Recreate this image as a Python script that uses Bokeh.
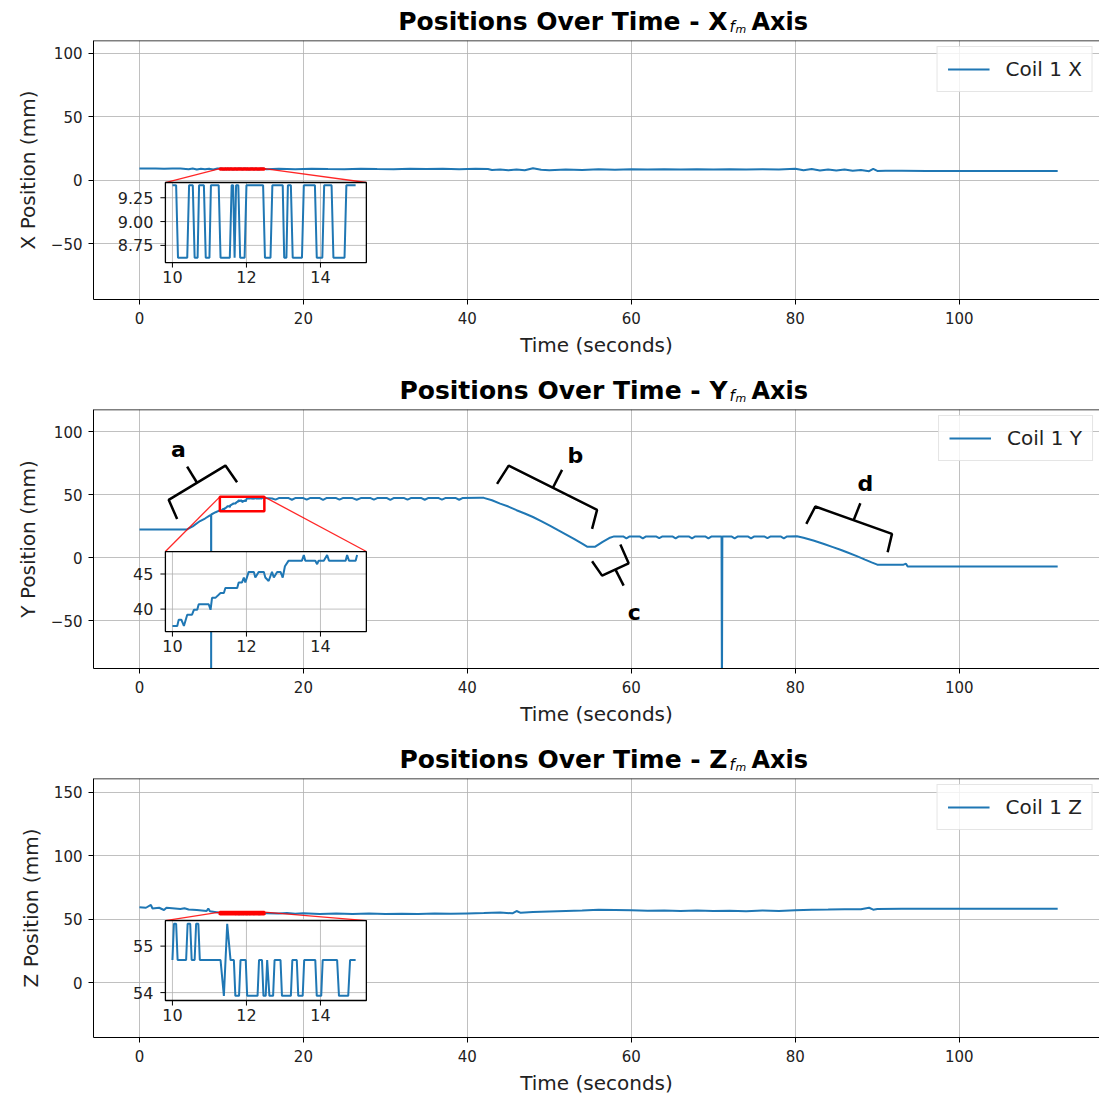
from bokeh.plotting import figure
from bokeh.models import Range1d, FixedTicker, Legend, LegendItem, Span
from bokeh.layouts import column
from bokeh.embed import file_html
from bokeh.resources import INLINE
from bokeh.core.properties import value

FONT = "DejaVu Sans"
BLUE = "#1f77b4"

# ---------------- data (time s, position mm) ----------------
x_before = [(0, 9.4), (1, 9.4), (2, 9.4), (3, 9.3), (4, 9.4), (5, 9.4), (6, 8.8), (6.5, 9.4),
            (7, 8.6), (7.5, 9.2), (8, 8.8), (8.5, 9.3), (9, 8.7), (9.5, 9.4)]
x_zoom = [(10.0, 9.38), (10.1, 9.38), (10.15, 8.62), (10.4, 8.62), (10.45, 9.38), (10.55, 9.38),
          (10.6, 8.62), (10.68, 8.62), (10.72, 9.38), (10.85, 9.38), (10.9, 8.62), (11.0, 8.62),
          (11.04, 9.38), (11.25, 9.38), (11.3, 8.62), (11.55, 8.62), (11.6, 9.38), (11.64, 9.38),
          (11.68, 8.62), (11.72, 9.38), (11.78, 9.38), (11.83, 8.62), (11.95, 8.62), (12.0, 9.38),
          (12.45, 9.38), (12.5, 8.62), (12.65, 8.62), (12.7, 9.38), (12.98, 9.38), (13.02, 8.62),
          (13.08, 8.62), (13.12, 9.38), (13.2, 9.38), (13.25, 8.62), (13.5, 8.62), (13.55, 9.38),
          (13.85, 9.38), (13.9, 8.62), (14.05, 8.62), (14.1, 9.38), (14.3, 9.38), (14.35, 8.62),
          (14.65, 8.62), (14.7, 9.38), (14.95, 9.38)]
x_after = [(15.5, 8.8), (17, 9.3), (19, 8.8), (21, 9.3), (23, 9.0), (25, 8.8), (27, 9.3), (29, 9.0),
           (31, 8.8), (33, 9.3), (35, 9.0), (37, 9.3), (39, 8.8), (41, 9.3), (42.5, 9.0), (43, 8.2),
           (44, 8.6), (45, 8.0), (46, 8.6), (47, 8.1), (48, 9.6), (49, 8.4), (50, 8.1), (52, 8.6),
           (54, 8.3), (56, 8.9), (58, 8.5), (60, 8.9), (62, 8.6), (64, 8.9), (66, 8.6), (68, 8.9),
           (70, 8.6), (72, 8.9), (74, 8.6), (76, 8.9), (78, 8.6), (80, 9.3), (81, 8.1), (82, 9.0),
           (83, 7.9), (84, 8.7), (85, 7.8), (86, 8.6), (87, 7.6), (88, 8.3), (89, 7.3), (89.5, 9.1),
           (90, 7.5), (91, 7.6), (93, 7.6), (96, 7.5), (100, 7.5), (104, 7.5), (108, 7.5), (112, 7.5)]

y_before = [(0, 22.3), (5.8, 22.3), (6.5, 24.8), (7.4, 29.0), (8.0, 31.0), (8.6, 33.5), (8.74, 33.8),
            (8.75, -120), (8.76, 34.2), (9.3, 36.0), (9.8, 37.4)]
y_zoom = [(10.0, 37.6), (10.13, 37.6), (10.17, 38.5), (10.24, 38.5), (10.31, 37.6), (10.40, 39.2),
          (10.53, 39.2), (10.58, 39.9), (10.67, 39.9), (10.71, 40.7), (10.98, 40.7), (11.03, 39.9),
          (11.07, 41.6), (11.16, 41.6), (11.30, 42.3), (11.39, 42.3), (11.43, 43.0), (11.75, 43.0),
          (11.79, 43.8), (11.88, 43.8), (11.93, 44.5), (11.97, 43.8), (12.06, 45.3), (12.20, 45.3),
          (12.24, 44.5), (12.33, 45.3), (12.47, 45.3), (12.51, 44.5), (12.60, 44.0), (12.69, 45.3),
          (12.74, 44.5), (12.83, 45.3), (12.92, 45.3), (12.98, 44.5), (13.04, 46.1), (13.14, 46.9),
          (13.50, 46.9), (13.55, 47.7), (13.59, 46.9), (13.86, 46.9), (13.91, 46.4), (13.95, 46.9),
          (14.09, 46.9), (14.18, 47.7), (14.23, 46.9), (14.68, 46.9), (14.72, 47.7), (14.77, 46.9),
          (14.95, 46.9), (14.99, 47.7)]
y_after = [(15.4, 47.2), (16.2, 46.9), (16.6, 46.0), (17.0, 47.2), (18.2, 47.2), (18.6, 45.9),
           (19.0, 47.2), (20.0, 47.2), (20.4, 46.0), (20.8, 47.2), (22.0, 47.2), (22.4, 45.8),
           (22.8, 47.2), (24.0, 47.2), (24.4, 46.0), (24.8, 47.2), (26.0, 47.2), (26.5, 45.9),
           (27.0, 47.2), (28.2, 47.2), (28.6, 46.0), (29.0, 47.2), (30.2, 47.2), (30.6, 45.8),
           (31.0, 47.2), (32.3, 47.2), (32.7, 46.0), (33.1, 47.2), (34.4, 47.2), (34.8, 45.9),
           (35.2, 47.2), (36.5, 47.2), (36.9, 46.0), (37.3, 47.2), (38.6, 47.2), (39.0, 45.9),
           (39.4, 47.2), (41.5, 47.4), (42.0, 47.4), (43.0, 45.5), (44.0, 42.8), (45.0, 40.5),
           (46.0, 37.6), (47.0, 35.0), (48.0, 32.2), (49.0, 29.0), (50.0, 25.6), (51.0, 22.0),
           (52.0, 18.5), (53.0, 14.8), (54.0, 11.0), (54.6, 8.7), (55.6, 8.7), (56.5, 12.5),
           (57.3, 15.5), (57.9, 16.8), (59.0, 16.8), (59.4, 15.3), (59.8, 16.8), (61.0, 16.8),
           (61.4, 15.2), (61.8, 16.8), (63.0, 16.8), (63.4, 15.4), (63.8, 16.8), (65.0, 16.8),
           (65.4, 15.2), (65.8, 16.8), (67.0, 16.8), (67.4, 15.3), (67.8, 16.8), (69.0, 16.8),
           (69.4, 15.2), (69.8, 16.8), (71.0, 16.8), (71.05, -120), (71.1, 16.8), (72.2, 16.8),
           (72.6, 15.3), (73.0, 16.8), (74.2, 16.8), (74.6, 15.2), (75.0, 16.8), (76.2, 16.8),
           (76.6, 15.4), (77.0, 16.8), (78.2, 16.8), (78.6, 15.3), (79.0, 16.8), (80.2, 17.0),
           (81.0, 15.8), (82.2, 13.5), (83.5, 10.8), (84.5, 8.5), (85.5, 6.2), (86.3, 4.2),
           (87.5, 1.2), (88.5, -1.6), (89.3, -3.8), (90.0, -5.6), (93.2, -5.6), (93.5, -4.8),
           (93.7, -7.1), (112.0, -7.1)]

z_before = [(0, 59.4), (0.8, 59.0), (1.4, 61.2), (1.6, 58.4), (2.4, 59.0), (3.0, 57.2), (3.3, 59.0),
            (4.0, 58.6), (5.0, 58.0), (5.5, 58.6), (6.0, 57.6), (7.0, 57.2), (7.6, 56.8), (8.2, 56.4),
            (8.4, 58.4), (8.6, 56.2), (9.2, 55.6), (9.8, 55.0)]
z_zoom = [(10.0, 54.7), (10.04, 55.48), (10.1, 55.48), (10.14, 54.7), (10.37, 54.7), (10.41, 55.48),
          (10.48, 55.48), (10.52, 54.7), (10.6, 54.7), (10.64, 55.48), (10.7, 55.48), (10.74, 54.7),
          (11.3, 54.7), (11.39, 53.93), (11.48, 55.48), (11.57, 54.7), (11.66, 54.7), (11.7, 53.93),
          (11.8, 53.93), (11.84, 54.7), (11.98, 54.7), (12.02, 53.93), (12.3, 53.93), (12.34, 54.7),
          (12.42, 54.7), (12.46, 53.93), (12.52, 53.93), (12.56, 54.7), (12.62, 53.93), (12.72, 53.93),
          (12.76, 54.7), (12.92, 54.7), (12.96, 53.93), (13.2, 53.93), (13.24, 54.7), (13.36, 54.7),
          (13.4, 53.93), (13.52, 53.93), (13.56, 54.7), (13.86, 54.7), (13.9, 53.93), (14.02, 53.93),
          (14.06, 54.7), (14.45, 54.7), (14.5, 53.93), (14.75, 53.93), (14.8, 54.7), (14.95, 54.7)]
z_after = [(15.5, 54.7), (17, 54.4), (18, 54.8), (19, 54.2), (20, 54.6), (22, 54.0), (24, 54.5),
           (26, 54.1), (28, 54.4), (30, 54.0), (32, 54.3), (34, 54.0), (36, 54.4), (38, 54.2),
           (40, 54.5), (42, 54.8), (44, 55.2), (45.5, 54.6), (46, 56.4), (46.5, 55.0), (48, 55.6),
           (50, 56.0), (52, 56.4), (54, 56.8), (56, 57.4), (58, 57.2), (60, 57.0), (62, 56.6),
           (64, 56.8), (66, 56.5), (68, 56.8), (70, 56.4), (72, 56.7), (74, 56.3), (76, 56.8),
           (78, 56.4), (80, 57.0), (82, 57.4), (84, 57.6), (86, 57.9), (88, 57.8), (89, 59.0),
           (89.5, 57.5), (90, 58.0), (93, 58.3), (100, 58.3), (112, 58.3)]

x_ticks = [0, 20, 40, 60, 80, 100]
inset_x_ticks = [10, 12, 14]

# bracket annotations on the Y panel (time, mm)
brackets = [
    ("a", [(4.60, 30.7), (3.57, 45.8), (10.49, 73.0), (11.91, 59.8)], [(7.03, 59.4), (5.82, 72.2)], (4.76, 85.7)),
    ("b", [(43.62, 58.5), (45.04, 73.0), (55.82, 37.9), (55.21, 22.8)], [(50.43, 55.4), (51.55, 69.6)], (53.17, 81.0)),
    ("c", [(55.21, -2.9), (56.43, -14.3), (59.67, -4.5), (58.66, 10.3)], [(58.05, -9.4), (59.06, -22.2)], (60.37, -43.4)),
    ("d", [(81.34, 26.7), (82.44, 40.5), (91.79, 18.8), (91.26, 4.2)], [(87.11, 29.6), (87.93, 43.1)], (88.54, 58.5)),
]

panels = [
    dict(axis="X", before=x_before, zoom=x_zoom, after=x_after, yr=(-93.7, 110.2),
         yticks=[-50, 0, 50, 100], src_y=(8.57, 9.41), tgt_y=(-64.6, -1.6),
         in_yticks=[8.75, 9.0, 9.25], in_ylabels=["8.75", "9.00", "9.25"]),
    dict(axis="Y", before=y_before, zoom=y_zoom, after=y_after, yr=(-88.0, 117.5),
         yticks=[-50, 0, 50, 100], src_y=(36.8, 48.2), tgt_y=(-58.7, 4.8),
         in_yticks=[40, 45], in_ylabels=["40", "45"]),
    dict(axis="Z", before=z_before, zoom=z_zoom, after=z_after, yr=(-43.4, 161.0),
         yticks=[0, 50, 100, 150], src_y=(53.83, 55.55), tgt_y=(-14.2, 48.9),
         in_yticks=[54, 55], in_ylabels=["54", "55"]),
]

SRC_X = (9.81, 15.24)
TGT_X = (3.17, 27.68)
XR = (-5.6, 117.1)
W, LEFT, TOP = 1099, 93, 40
FRAME_W, FRAME_H = W - LEFT, 259


def title_figure(axis_letter):
    # pixel-coordinate strip above each panel, frame aligned with the panel frames
    t = figure(width=W, height=TOP, output_backend="svg", toolbar_location=None, title=None,
               x_range=Range1d(LEFT, W), y_range=Range1d(0, TOP), x_axis_location=None,
               y_axis_location=None, min_border_left=LEFT, min_border_right=0,
               min_border_top=0, min_border_bottom=0)
    t.outline_line_color = None
    t.xgrid.visible = False
    t.ygrid.visible = False
    common = dict(text_baseline="alphabetic", text_font=value(FONT), text_color="black")
    t.text(x=[727], y=[19], text=[f"Positions Over Time - {axis_letter}"], text_align="right",
           text_font_style="bold", text_font_size="25px", **common)
    t.text(x=[729], y=[14], text=["f"], text_align="left", text_font_style="italic",
           text_font_size="15px", **common)
    t.text(x=[735], y=[11], text=["m"], text_align="left", text_font_style="italic",
           text_font_size="11px", **common)
    t.text(x=[751], y=[19], text=["Axis"], text_align="left", text_font_style="bold",
           text_font_size="24px", **common)
    return t


figs = []
for i, cfg in enumerate(panels):
    last = i == len(panels) - 1
    bottom = 60 if last else 70
    p = figure(width=W, height=FRAME_H + bottom, output_backend="svg", toolbar_location=None,
               title=None, x_range=Range1d(*XR), y_range=Range1d(*cfg["yr"]),
               min_border_left=LEFT, min_border_right=0, min_border_top=0, min_border_bottom=bottom)
    p.outline_line_color = None
    p.background_fill_color = "white"
    p.border_fill_color = "white"

    for ax in (p.xaxis[0], p.yaxis[0]):
        ax.axis_line_color = "black"
        ax.major_tick_line_color = "black"
        ax.major_tick_out = 5
        ax.major_tick_in = 0
        ax.minor_tick_line_color = None
        ax.major_label_text_font = FONT
        ax.major_label_text_font_size = "15px"
        ax.major_label_text_color = "#222222"
        ax.axis_label_text_font = FONT
        ax.axis_label_text_font_size = "20px"
        ax.axis_label_text_font_style = "normal"
        ax.axis_label_text_color = "#222222"
    p.xaxis.ticker = FixedTicker(ticks=x_ticks)
    p.yaxis.ticker = FixedTicker(ticks=cfg["yticks"])
    p.yaxis.major_label_overrides = {t: ("\u2212" + str(-t) if t < 0 else str(t)) for t in cfg["yticks"]}
    p.xaxis.axis_label = "Time (seconds)"
    p.yaxis.axis_label = f"{cfg['axis']} Position (mm)"
    p.xaxis.major_label_standoff = 7
    p.xaxis.axis_label_standoff = 6
    p.yaxis.major_label_standoff = 6
    p.yaxis.axis_label_standoff = 8
    for g in (p.xgrid[0], p.ygrid[0]):
        g.grid_line_color = "#b0b0b0"
        g.grid_line_alpha = 0.8
        g.grid_line_width = 1
    p.add_layout(Span(location=cfg["yr"][1], dimension="width", line_color="black", line_width=1.5))

    pts = cfg["before"] + cfg["zoom"] + cfg["after"]
    t_all = [a for a, _ in pts]
    v_all = [b for _, b in pts]
    main = p.line(t_all, v_all, line_color=BLUE, line_width=2)

    # zoom box and connectors
    sy0, sy1 = cfg["src_y"]
    ty0, ty1 = cfg["tgt_y"]
    p.quad(left=[SRC_X[0]], right=[SRC_X[1]], bottom=[sy0], top=[sy1], fill_color=None,
           line_color="red", line_width=2.5)
    p.segment(x0=[SRC_X[0], SRC_X[1]], y0=[sy1, sy1], x1=[TGT_X[0], TGT_X[1]], y1=[ty1, ty1],
              line_color="red", line_width=1.3, line_alpha=0.85)

    # inset axes
    sub = p.subplot(x_source=Range1d(*SRC_X), y_source=Range1d(sy0, sy1),
                    x_target=Range1d(*TGT_X), y_target=Range1d(ty0, ty1))
    sub.quad(left=[SRC_X[0]], right=[SRC_X[1]], bottom=[sy0], top=[sy1], fill_color="white",
             line_color=None)
    sub.segment(x0=inset_x_ticks, y0=[sy0] * 3, x1=inset_x_ticks, y1=[sy1] * 3,
                line_color="#b0b0b0", line_alpha=0.8, line_width=1)
    n = len(cfg["in_yticks"])
    sub.segment(x0=[SRC_X[0]] * n, y0=cfg["in_yticks"], x1=[SRC_X[1]] * n, y1=cfg["in_yticks"],
                line_color="#b0b0b0", line_alpha=0.8, line_width=1)
    sub.line([a for a, _ in cfg["zoom"]], [b for _, b in cfg["zoom"]], line_color=BLUE, line_width=2)
    sub.quad(left=[SRC_X[0]], right=[SRC_X[1]], bottom=[sy0], top=[sy1], fill_color=None,
             line_color="black", line_width=1.3)
    # inset ticks (outward)
    px_x = FRAME_W / (XR[1] - XR[0])
    px_y = FRAME_H / (cfg["yr"][1] - cfg["yr"][0])
    tlx = 5 * (SRC_X[1] - SRC_X[0]) / ((TGT_X[1] - TGT_X[0]) * px_x)
    tly = 5 * (sy1 - sy0) / ((ty1 - ty0) * px_y)
    sub.segment(x0=inset_x_ticks, y0=[sy0] * 3, x1=inset_x_ticks, y1=[sy0 - tly] * 3,
                line_color="black", line_width=1)
    sub.segment(x0=[SRC_X[0]] * n, y0=cfg["in_yticks"], x1=[SRC_X[0] - tlx] * n, y1=cfg["in_yticks"],
                line_color="black", line_width=1)
    sub.text(x=inset_x_ticks, y=[sy0] * 3, text=[str(t) for t in inset_x_ticks], y_offset=8,
             text_align="center", text_baseline="top", text_font=value(FONT),
             text_font_size="16px", text_color="#222222")
    sub.text(x=[SRC_X[0]] * n, y=cfg["in_yticks"], text=cfg["in_ylabels"], x_offset=-12,
             text_align="right", text_baseline="middle", text_font=value(FONT),
             text_font_size="16px", text_color="#222222")

    # legend
    legend = Legend(items=[LegendItem(label=f"Coil 1 {cfg['axis']}", renderers=[main])],
                    location="top_right")
    legend.label_text_font = FONT
    legend.label_text_font_size = "20px"
    legend.label_text_color = "#222222"
    legend.glyph_width = 42
    legend.glyph_height = 20
    legend.label_height = 20
    legend.label_standoff = 16
    legend.padding = 10
    legend.margin = 6
    legend.border_line_color = "#cccccc"
    legend.border_line_width = 1
    legend.background_fill_alpha = 0.8
    p.add_layout(legend)

    if cfg["axis"] == "Y":
        for letter, path, stem, pos in brackets:
            p.multi_line(xs=[[a for a, _ in path], [a for a, _ in stem]],
                         ys=[[b for _, b in path], [b for _, b in stem]],
                         line_color="black", line_width=2.5)
            p.text(x=[pos[0]], y=[pos[1]], text=[letter], text_align="center",
                   text_baseline="middle", text_font=value(FONT), text_font_style="bold",
                   text_font_size="22px", text_color="black")
    figs.append(title_figure(cfg["axis"]))
    figs.append(p)

layout = column(*figs, spacing=0)
open("out.html", "w").write(file_html(layout, INLINE))
